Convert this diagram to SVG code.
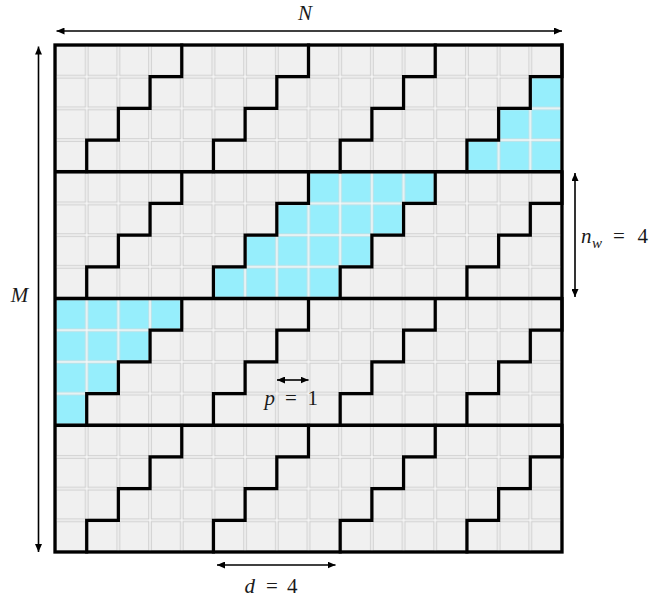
<svg xmlns="http://www.w3.org/2000/svg" width="649" height="597" viewBox="0 0 649 597">
<style>
.thick{fill:none;stroke:#000;stroke-width:3.3;stroke-linejoin:miter}
.stair{fill:none;stroke:#000;stroke-width:3.2;stroke-linejoin:miter;stroke-linecap:square}
.arr{stroke:#000;stroke-width:1.6;fill:none;marker-start:url(#ah);marker-end:url(#ah)}
.lbl{font-family:"Liberation Serif","DejaVu Serif",serif;font-size:21px;fill:#1a1a1a}
.it{font-style:italic}
</style>
<defs>
<pattern id="cell" x="55" y="45" width="31.6875" height="31.6875" patternUnits="userSpaceOnUse">
<rect x="0" y="0" width="31.6875" height="31.6875" fill="#fafafa"/>
<rect x="1.2" y="1.2" width="29.3" height="29.3" fill="#f0f0f0" stroke="#c9c9c9" stroke-width="1"/>
</pattern>
<pattern id="bcell" x="55" y="45" width="31.6875" height="31.6875" patternUnits="userSpaceOnUse">
<rect x="0" y="0" width="31.6875" height="31.6875" fill="#fafafa"/>
<rect x="1.2" y="1.2" width="29.3" height="29.3" fill="#96eefc" stroke="#bcdfe5" stroke-width="1"/>
</pattern>
<marker id="ah" viewBox="0 0 8 7" refX="8" refY="3.5" markerWidth="8" markerHeight="7" markerUnits="userSpaceOnUse" orient="auto-start-reverse">
<path d="M0,0 L8,3.5 L0,7 z" fill="#000"/>
</marker>
<path id="st" class="stair" d="M0,0 v31.6875 h-31.6875 v31.6875 h-31.6875 v31.6875 h-31.6875 v31.6875"/>
</defs>
<rect width="649" height="597" fill="#fff"/>
<g id="grid">
<rect x="55" y="45" width="507" height="507" fill="url(#cell)"/>
</g>
<g id="blue-regions">
<polygon id="blue1" fill="url(#bcell)" points="530.3125,76.6875 562,76.6875 562,171.75 466.9375,171.75 466.9375,140.0625 498.625,140.0625 498.625,108.375 530.3125,108.375"/>
<polygon id="blue2" fill="url(#bcell)" points="308.5,171.75 435.25,171.75 435.25,203.4375 403.5625,203.4375 403.5625,235.125 371.875,235.125 371.875,266.8125 340.1875,266.8125 340.1875,298.5 213.4375,298.5 213.4375,266.8125 245.125,266.8125 245.125,235.125 276.8125,235.125 276.8125,203.4375 308.5,203.4375"/>
<polygon id="blue3" fill="url(#bcell)" points="55,298.5 181.75,298.5 181.75,330.1875 150.0625,330.1875 150.0625,361.875 118.375,361.875 118.375,393.5625 86.6875,393.5625 86.6875,425.25 55,425.25"/>
</g>
<g id="staircases">
<use href="#st" x="181.75" y="45"/><use href="#st" x="308.5" y="45"/><use href="#st" x="435.25" y="45"/><use href="#st" x="562" y="45"/>
<use href="#st" x="181.75" y="171.75"/><use href="#st" x="308.5" y="171.75"/><use href="#st" x="435.25" y="171.75"/><use href="#st" x="562" y="171.75"/>
<use href="#st" x="181.75" y="298.5"/><use href="#st" x="308.5" y="298.5"/><use href="#st" x="435.25" y="298.5"/><use href="#st" x="562" y="298.5"/>
<use href="#st" x="181.75" y="425.25"/><use href="#st" x="308.5" y="425.25"/><use href="#st" x="435.25" y="425.25"/><use href="#st" x="562" y="425.25"/>
</g>
<g id="block-lines">
<path class="thick" d="M55,171.75 H562 M55,298.5 H562 M55,425.25 H562"/>
<rect class="thick" x="55" y="45" width="507" height="507"/>
</g>
<g id="connectors">
<line class="arr" x1="56.5" y1="31" x2="562" y2="31"/>
<line class="arr" x1="38.5" y1="46.5" x2="38.5" y2="552"/>
<line class="arr" x1="575" y1="173" x2="575" y2="297"/>
<line class="arr" x1="277" y1="380" x2="308.5" y2="380"/>
<line class="arr" x1="217" y1="565" x2="335.5" y2="565"/>
</g>
<g id="labels">
<text class="lbl it" x="305" y="20" text-anchor="middle">N</text>
<text class="lbl it" x="19.5" y="302" text-anchor="middle">M</text>
<text class="lbl" y="243"><tspan class="it" x="581">n</tspan><tspan class="it" x="592" y="248" font-size="15">w</tspan><tspan x="613" y="243">=</tspan><tspan x="637.5">4</tspan></text>
<text class="lbl" y="405"><tspan class="it" x="264.5">p</tspan><tspan x="285">=</tspan><tspan x="307.5">1</tspan></text>
<text class="lbl" y="593"><tspan class="it" x="244.5">d</tspan><tspan x="266">=</tspan><tspan x="287">4</tspan></text>
</g>
</svg>
